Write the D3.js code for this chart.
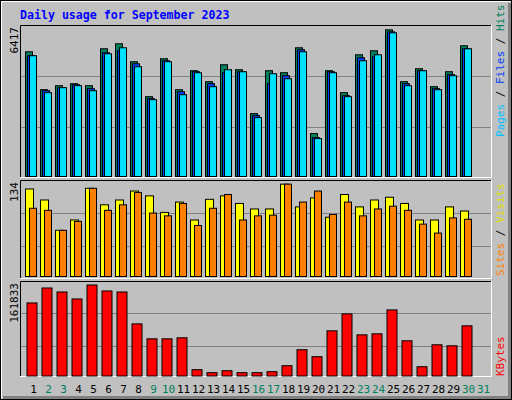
<!DOCTYPE html><html><head><script src="https://cdn.jsdelivr.net/npm/d3@7"></script>
<style>body{margin:0}svg{display:block}</style></head><body><script>
const days=d3.range(1,32);
const weekend=[2,3,9,10,16,17,23,24,30,31];
const hits=[5456,3798,3972,4059,3972,5587,5805,5020,3492,5151,3798,4627,4147,4889,4671,2750,4627,4540,5631,1877,4627,3667,5325,5500,6417,4147,4714,3929,4583,5718,0];
const files=[5282,3754,3885,4016,3841,5413,5500,4932,3405,5063,3710,4583,4059,4540,4583,2663,4059,4409,5544,1702,4583,3536,5194,5238,6329,4059,4627,3841,4452,5587,0];
const pages=[5282,3667,3885,3972,3754,5369,5631,4802,3361,5020,3579,4540,3929,4671,4583,2575,4496,4278,5456,1659,4540,3492,5063,5325,6286,3972,4627,3798,4409,5587,0];
const visits=[127,111,67,82,128,104,111,124,117,93,108,82,112,117,106,98,98,134,101,114,86,119,101,111,115,106,82,82,101,95,0];
const sites=[99,96,67,80,128,96,104,122,92,88,106,74,99,119,82,88,89,134,108,124,90,108,88,98,102,96,76,63,85,83,0];
const kbytes=[129900,156500,149400,137000,161833,151200,149400,92700,66100,66100,67900,11200,5900,9400,5900,5900,7700,18300,46700,34300,80300,110400,73200,75000,117500,62600,16500,55500,53700,89200,0];
const maxLabels=["6417","134","161833"];

const W=512,H=400;
const svg=d3.select("body").append("svg").attr("width",W).attr("height",H);
svg.append("rect").attr("width",W).attr("height",H).attr("fill","#c0c0c0");
svg.append("rect").attr("x",0.5).attr("y",0.5).attr("width",W-1).attr("height",H-1).attr("fill","none").attr("stroke","#000");
svg.append("path").attr("d","M1.5,398.5V1.5H510.5").attr("stroke","#fff").attr("fill","none");
svg.append("path").attr("d","M3,397.5H509.5V3").attr("stroke","#808080").attr("stroke-width",3).attr("fill","none");
const mono="'DejaVu Sans Mono',monospace";
svg.append("text").attr("x",20).attr("y",19).text("Daily usage for September 2023")
 .attr("font-family",mono).attr("font-weight","bold").attr("font-size",11.6).attr("fill","#0000ff");

const x=d3.scaleBand().domain(days).range([20,485]).paddingInner(0);
// each band 15px
const L=20,R=491;
function panel(top,bot,grid){
  svg.append("rect").attr("x",L).attr("y",top).attr("width",R-L).attr("height",bot-top).attr("fill","#c0c0c0");
  grid.forEach(g=>svg.append("line").attr("x1",L).attr("x2",R).attr("y1",g+.5).attr("y2",g+.5).attr("stroke","#808080"));
  svg.append("path").attr("d",`M${L+.5},${bot}V${top+.5}H${R}`).attr("stroke","#000").attr("fill","none");
  svg.append("path").attr("d",`M${L},${bot+.5}H${R+.5}V${top}`).attr("stroke","#fff").attr("fill","none");
}
panel(25,177,[76,127]);
panel(180,278,[213,246]);
panel(281,376,[313,346]);

function bars(data,y,dx,w,color){
  svg.append("g").selectAll("rect").data(data.map((v,i)=>({d:days[i],v})).filter(o=>o.v>0)).join("rect")
   .attr("x",o=>x(o.d)+dx+.5).attr("y",o=>y(o.v)+.5).attr("width",w).attr("height",o=>y(0)-y(o.v))
   .attr("fill",color).attr("stroke","#000");
}
const y1=d3.scaleLinear().domain([0,6606]).range([176,25]);
bars(hits,y1,5,7,"#00805c");
bars(files,y1,7,7,"#0040ff");
bars(pages,y1,9,7,"#00e0ff");
const y2=d3.scaleLinear().domain([0,139.3]).range([276,180]);
bars(visits,y2,5,8,"#ffff00");
bars(sites,y2,9,7,"#ff8000");
const y3=d3.scaleLinear().domain([0,168920]).range([375.5,280.5]);
bars(kbytes,y3,6.5,10,"#ff0000");

svg.append("g").selectAll("text").data(days).join("text")
 .attr("x",d=>x(d)+13.5).attr("y",393).attr("text-anchor","middle")
 .attr("font-family",mono).attr("font-size",11)
 .attr("fill",d=>weekend.includes(d)?"#00805c":"#000").text(d=>d);

function vlabel(xp,yp,txt,anchor){
  svg.append("text").attr("transform",`translate(${xp},${yp}) rotate(-90)`).attr("text-anchor",anchor)
   .attr("font-family",mono).attr("font-size",11).attr("fill","#000").text(txt);
}
vlabel(18,27,maxLabels[0],"end");
vlabel(18,182,maxLabels[1],"end");
vlabel(18,283,maxLabels[2],"end");

function rlabel(yp,parts){
  const t=svg.append("text").attr("transform",`translate(504,${yp}) rotate(-90)`).attr("text-anchor","start")
   .attr("font-family",mono).attr("font-size",11);
  parts.forEach(p=>t.append("tspan").attr("fill",p[1]).text(p[0]));
}
rlabel(137,[["Pages","#00c0ff"],[" / ","#000"],["Files","#0040ff"],[" / ","#000"],["Hits","#00805c"]]);
rlabel(276,[["Sites","#ff8000"],[" / ","#000"],["Visits","#e0e000"]]);
rlabel(376,[["KBytes","#ff0000"]]);
</script></body></html>
